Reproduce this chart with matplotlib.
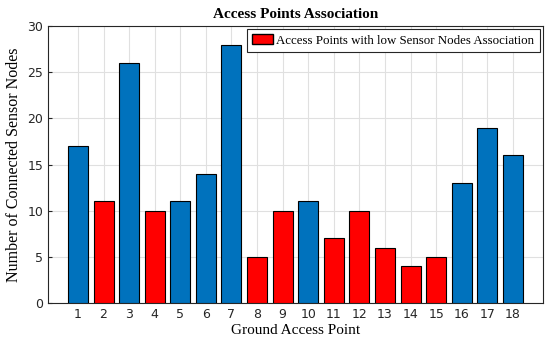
import matplotlib.pyplot as plt
import numpy as np
from matplotlib.patches import Patch

aps = np.arange(1, 19)
nodes = [17, 11, 26, 10, 11, 14, 28, 5, 10, 11, 7, 10, 6, 4, 5, 13, 19, 16]
low = [2, 4, 8, 9, 11, 12, 13, 14, 15]

blue = '#0072BD'
red = '#FF0000'
colors = [red if a in low else blue for a in aps]

serif = 'Liberation Serif'

fig = plt.figure(figsize=(5.5, 3.43), dpi=100)
ax = fig.add_axes([0.0873, 0.1166, 0.8997, 0.8074])
ax.bar(aps, nodes, width=0.78, color=colors, edgecolor='black', linewidth=0.8, zorder=3)

ax.set_xlim(-0.17, 19.17)
ax.set_ylim(0, 30)
ax.set_xticks(aps)
ax.set_yticks(np.arange(0, 31, 5))
ax.tick_params(direction='in', length=3, labelsize=9, colors='#262626')
ax.grid(True, color='#e0e0e0', linewidth=0.8, zorder=0)
for s in ax.spines.values():
    s.set_color('#262626')
    s.set_linewidth(0.8)

ax.set_xlabel('Ground Access Point', fontfamily=serif, fontsize=11, labelpad=2)
ax.set_ylabel('Number of Connected Sensor Nodes', fontfamily=serif, fontsize=11.5, labelpad=4)
ax.set_title('Access Points Association', fontfamily=serif, fontsize=11, fontweight='bold', pad=6)

leg = ax.legend(handles=[Patch(facecolor=red, edgecolor='black', label='Access Points with low Sensor Nodes Association')],
                loc='upper right', prop={'family': serif, 'size': 9.3}, fancybox=False,
                framealpha=1, edgecolor='#262626', borderaxespad=0.25, handlelength=1.6,
                handletextpad=0.3, borderpad=0.4)
leg.get_frame().set_linewidth(0.8)

fig.savefig('out.png', dpi=100)
